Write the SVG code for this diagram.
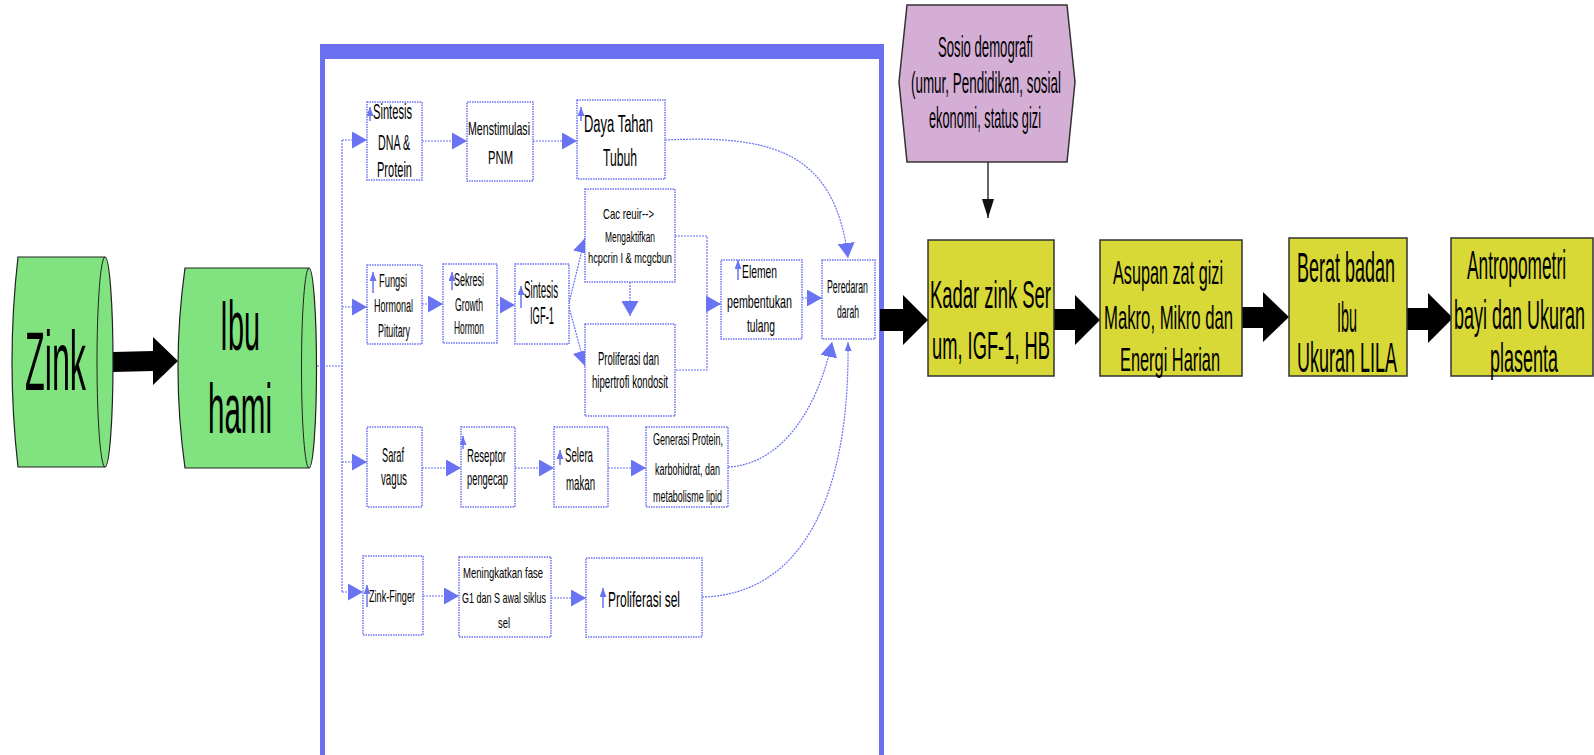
<svg xmlns="http://www.w3.org/2000/svg" width="1594" height="755" viewBox="0 0 1594 755">
<defs>
<style>
text{font-family:"Liberation Sans",Arial,sans-serif;fill:#000}
.cyl{fill:#80e380;stroke:#222;stroke-width:1.2}
.cap{fill:none;stroke:#222;stroke-width:1}
.box{fill:#fff;stroke:#6a73f2;stroke-width:1.5;stroke-dasharray:1.5 1}
.yb{fill:#d8d837;stroke:#333;stroke-width:1.5}
.con{fill:none;stroke:#6a73f2;stroke-width:1.2;stroke-dasharray:2 1}
.up{stroke:#6a73f2;stroke-width:1.5;fill:none}
.blk{fill:#000}
</style>
<marker id="ah" markerUnits="userSpaceOnUse" viewBox="0 0 16 17" markerWidth="16" markerHeight="17" refX="15" refY="8.5" orient="auto"><path d="M0,0 L15,8.5 L0,17 Z" fill="#6a73f2"/></marker>
<marker id="sm" markerUnits="userSpaceOnUse" viewBox="0 0 9 7" markerWidth="9" markerHeight="7" refX="9" refY="3.5" orient="auto"><path d="M0,0 L9,3.5 L0,7 Z" fill="#6a73f2"/></marker>
<marker id="gh" markerUnits="userSpaceOnUse" viewBox="0 0 20 12" markerWidth="20" markerHeight="12" refX="19" refY="6" orient="auto"><path d="M0,0 L19,6 L0,12 Z" fill="#111"/></marker>
</defs>

<!-- frame -->
<path d="M320,44 H884 V760 H320 Z M325,59 V760 H879 V59 Z" fill="#6a70f0" fill-rule="evenodd"/>

<g id="connectors">
<path class="con" d="M317,366 H342"/>
<path class="con" d="M342,140 V592"/>
<path class="con" d="M342,140 H367" marker-end="url(#ah)"/>
<path class="con" d="M342,307 H367" marker-end="url(#ah)"/>
<path class="con" d="M342,462 H367" marker-end="url(#ah)"/>
<path class="con" d="M342,592 H363" marker-end="url(#ah)"/>
<path class="con" d="M422,141 H467" marker-end="url(#ah)"/>
<path class="con" d="M533,141 H577" marker-end="url(#ah)"/>
<path class="con" d="M422,304 H443" marker-end="url(#ah)"/>
<path class="con" d="M497,305 H515" marker-end="url(#ah)"/>
<path class="con" d="M569,303 L585,238" marker-end="url(#ah)"/>
<path class="con" d="M569,307 L585,366" marker-end="url(#ah)"/>
<path class="con" d="M630,282 V316" marker-end="url(#ah)"/>
<path class="con" d="M675,236 H707 V370 H675"/>
<path class="con" d="M707,304 H721" marker-end="url(#ah)"/>
<path class="con" d="M802,298 H822" marker-end="url(#ah)"/>
<path class="con" d="M422,468 H461" marker-end="url(#ah)"/>
<path class="con" d="M515,468 H554" marker-end="url(#ah)"/>
<path class="con" d="M608,468 H646" marker-end="url(#ah)"/>
<path class="con" d="M423,596 H459" marker-end="url(#ah)"/>
<path class="con" d="M551,598 H586" marker-end="url(#ah)"/>
<path class="con" d="M665,140 C770,135 835,150 848,258" marker-end="url(#ah)"/>
<path class="con" d="M728,467 C775,465 815,420 832,342" marker-end="url(#ah)"/>
<path class="con" d="M702,597 C800,595 850,500 848,342" marker-end="url(#sm)"/>
<path d="M988,162 V218" stroke="#333" stroke-width="1.5" marker-end="url(#gh)"/>
<polygon class="blk" points="113,352 153,351 153,337 178,361 153,385 153,371 113,372"/>
<polygon class="blk" points="880,309 903,309 903,295 928,320 903,345 903,331 880,331"/>
<polygon class="blk" points="1054,309 1075,309 1075,295 1100,320 1075,345 1075,330 1054,330"/>
<polygon class="blk" points="1242,307 1263,307 1263,292 1289,317 1263,342 1263,328 1242,328"/>
<polygon class="blk" points="1407,308 1428,308 1428,293 1453,318 1428,343 1428,330 1407,330"/>
</g>

<g id="zink">
<path class="cyl" d="M18,257 L105,257 A8,105 0 0 1 105,467 L18,467 Q6,362 18,257 Z"/>
<path class="cap" d="M105,257 A8,105 0 0 0 105,467"/>
<text x="25" y="390" font-size="84" textLength="61" lengthAdjust="spacingAndGlyphs">Zink</text>
</g>
<g id="ibu">
<path class="cyl" d="M185,268 L309,268 A7.5,100 0 0 1 309,468 L185,468 Q171,368 185,268 Z"/>
<path class="cap" d="M309,268 A7.5,100 0 0 0 309,468"/>
<text x="220" y="350" font-size="70" textLength="40" lengthAdjust="spacingAndGlyphs">Ibu</text>
<text x="208" y="433" font-size="70" textLength="64" lengthAdjust="spacingAndGlyphs">hami</text>
</g>

<g id="sintesis-dna">
<rect class="box" x="367" y="102" width="55" height="78"/>
<path class="up" d="M370,121 V107" marker-end="url(#sm)"/>
<text x="373" y="119" font-size="22" textLength="39" lengthAdjust="spacingAndGlyphs">Sintesis</text>
<text x="378" y="150" font-size="22" textLength="32" lengthAdjust="spacingAndGlyphs">DNA &amp;</text>
<text x="377" y="177" font-size="22" textLength="35" lengthAdjust="spacingAndGlyphs">Protein</text>
</g>
<g id="menstimulasi">
<rect class="box" x="467" y="102" width="66" height="79"/>
<text x="468" y="135" font-size="18" textLength="62" lengthAdjust="spacingAndGlyphs">Menstimulasi</text>
<text x="488" y="164" font-size="18" textLength="25" lengthAdjust="spacingAndGlyphs">PNM</text>
</g>
<g id="daya-tahan">
<rect class="box" x="577" y="100" width="88" height="79"/>
<path class="up" d="M581,121 V107" marker-end="url(#sm)"/>
<text x="584" y="132" font-size="23" textLength="69" lengthAdjust="spacingAndGlyphs">Daya Tahan</text>
<text x="603" y="166" font-size="23" textLength="34" lengthAdjust="spacingAndGlyphs">Tubuh</text>
</g>

<g id="fungsi">
<rect class="box" x="367" y="265" width="55" height="79"/>
<path class="up" d="M373,293 V272" marker-end="url(#sm)"/>
<text x="379" y="287" font-size="18" textLength="28" lengthAdjust="spacingAndGlyphs">Fungsi</text>
<text x="374" y="312" font-size="18" textLength="39" lengthAdjust="spacingAndGlyphs">Hormonal</text>
<text x="378" y="337" font-size="18" textLength="32" lengthAdjust="spacingAndGlyphs">Pituitary</text>
</g>
<g id="sekresi">
<rect class="box" x="443" y="264" width="54" height="79"/>
<path class="up" d="M452,290 V272" marker-end="url(#sm)"/>
<text x="454" y="286" font-size="18" textLength="30" lengthAdjust="spacingAndGlyphs">Sekresi</text>
<text x="455" y="311" font-size="18" textLength="28" lengthAdjust="spacingAndGlyphs">Growth</text>
<text x="454" y="334" font-size="18" textLength="30" lengthAdjust="spacingAndGlyphs">Hormon</text>
</g>
<g id="sintesis-igf">
<rect class="box" x="515" y="264" width="54" height="80"/>
<path class="up" d="M521,308 V286" marker-end="url(#sm)"/>
<text x="524" y="298" font-size="23" textLength="34" lengthAdjust="spacingAndGlyphs">Sintesis</text>
<text x="530" y="324" font-size="23" textLength="24" lengthAdjust="spacingAndGlyphs">IGF-1</text>
</g>
<g id="cac">
<rect class="box" x="585" y="189" width="90" height="93"/>
<text x="603" y="219" font-size="15" textLength="51" lengthAdjust="spacingAndGlyphs">Cac reuir--&gt;</text>
<text x="605" y="242" font-size="15" textLength="50" lengthAdjust="spacingAndGlyphs">Mengaktifkan</text>
<text x="588" y="263" font-size="15" textLength="84" lengthAdjust="spacingAndGlyphs">hcpcrin I &amp; mcgcbun</text>
</g>
<g id="proliferasi-kondrosit">
<rect class="box" x="585" y="324" width="90" height="92"/>
<text x="598" y="365" font-size="18" textLength="61" lengthAdjust="spacingAndGlyphs">Proliferasi dan</text>
<text x="592" y="388" font-size="18" textLength="76" lengthAdjust="spacingAndGlyphs">hipertrofi kondosit</text>
</g>
<g id="elemen">
<rect class="box" x="721" y="260" width="81" height="79"/>
<path class="up" d="M738,280 V260" marker-end="url(#sm)"/>
<text x="742" y="278" font-size="19" textLength="35" lengthAdjust="spacingAndGlyphs">Elemen</text>
<text x="727" y="308" font-size="19" textLength="65" lengthAdjust="spacingAndGlyphs">pembentukan</text>
<text x="747" y="332" font-size="19" textLength="28" lengthAdjust="spacingAndGlyphs">tulang</text>
</g>
<g id="peredaran">
<rect class="box" x="822" y="260" width="53" height="79"/>
<text x="827" y="293" font-size="18" textLength="41" lengthAdjust="spacingAndGlyphs">Peredaran</text>
<text x="837" y="318" font-size="18" textLength="22" lengthAdjust="spacingAndGlyphs">darah</text>
</g>

<g id="saraf">
<rect class="box" x="367" y="427" width="55" height="80"/>
<text x="382" y="462" font-size="21" textLength="22" lengthAdjust="spacingAndGlyphs">Saraf</text>
<text x="381" y="485" font-size="21" textLength="26" lengthAdjust="spacingAndGlyphs">vagus</text>
</g>
<g id="reseptor">
<rect class="box" x="461" y="427" width="54" height="80"/>
<path class="up" d="M463,449 V436" marker-end="url(#sm)"/>
<text x="467" y="462" font-size="19" textLength="39" lengthAdjust="spacingAndGlyphs">Reseptor</text>
<text x="467" y="485" font-size="19" textLength="41" lengthAdjust="spacingAndGlyphs">pengecap</text>
</g>
<g id="selera">
<rect class="box" x="554" y="427" width="54" height="80"/>
<path class="up" d="M560,465 V450" marker-end="url(#sm)"/>
<text x="565" y="462" font-size="21" textLength="28" lengthAdjust="spacingAndGlyphs">Selera</text>
<text x="566" y="490" font-size="21" textLength="29" lengthAdjust="spacingAndGlyphs">makan</text>
</g>
<g id="generasi">
<rect class="box" x="646" y="427" width="82" height="80"/>
<text x="653" y="445" font-size="16" textLength="70" lengthAdjust="spacingAndGlyphs">Generasi Protein,</text>
<text x="655" y="475" font-size="16" textLength="65" lengthAdjust="spacingAndGlyphs">karbohidrat, dan</text>
<text x="653" y="502" font-size="16" textLength="69" lengthAdjust="spacingAndGlyphs">metabolisme lipid</text>
</g>

<g id="zink-finger">
<rect class="box" x="363" y="556" width="60" height="79"/>
<path class="up" d="M367,607 V585" marker-end="url(#sm)"/>
<text x="369" y="602" font-size="16" textLength="46" lengthAdjust="spacingAndGlyphs">Zink-Finger</text>
</g>
<g id="meningkatkan">
<rect class="box" x="459" y="557" width="92" height="80"/>
<text x="463" y="578" font-size="15" textLength="80" lengthAdjust="spacingAndGlyphs">Meningkatkan fase</text>
<text x="462" y="603" font-size="15" textLength="84" lengthAdjust="spacingAndGlyphs">G1 dan S awal siklus</text>
<text x="498" y="628" font-size="15" textLength="12" lengthAdjust="spacingAndGlyphs">sel</text>
</g>
<g id="proliferasi-sel">
<rect class="box" x="586" y="558" width="116" height="79"/>
<path class="up" d="M603,608 V588" marker-end="url(#sm)"/>
<text x="608" y="607" font-size="22" textLength="72" lengthAdjust="spacingAndGlyphs">Proliferasi sel</text>
</g>

<g id="sosio">
<polygon points="907,5 1067,5 1075,82 1067,162 907,162 899,82" fill="#d5aed6" stroke="#333" stroke-width="1.5"/>
<text x="938" y="57" font-size="29" textLength="95" lengthAdjust="spacingAndGlyphs">Sosio demografi</text>
<text x="911" y="93" font-size="29" textLength="150" lengthAdjust="spacingAndGlyphs">(umur, Pendidikan, sosial</text>
<text x="929" y="128" font-size="29" textLength="112" lengthAdjust="spacingAndGlyphs">ekonomi, status gizi</text>
</g>
<g id="kadar">
<rect class="yb" x="928" y="240" width="126" height="136"/>
<text x="930" y="308" font-size="38" textLength="121" lengthAdjust="spacingAndGlyphs">Kadar zink Ser</text>
<text x="932" y="359" font-size="38" textLength="118" lengthAdjust="spacingAndGlyphs">um, IGF-1, HB</text>
</g>
<g id="asupan">
<rect class="yb" x="1100" y="240" width="142" height="136"/>
<text x="1113" y="284" font-size="34" textLength="110" lengthAdjust="spacingAndGlyphs">Asupan zat gizi</text>
<text x="1104" y="329" font-size="34" textLength="129" lengthAdjust="spacingAndGlyphs">Makro, Mikro dan</text>
<text x="1120" y="371" font-size="34" textLength="100" lengthAdjust="spacingAndGlyphs">Energi Harian</text>
</g>
<g id="berat">
<rect class="yb" x="1289" y="238" width="118" height="138"/>
<text x="1297" y="282" font-size="42" textLength="98" lengthAdjust="spacingAndGlyphs">Berat badan</text>
<text x="1337" y="332" font-size="42" textLength="20" lengthAdjust="spacingAndGlyphs">Ibu</text>
<text x="1297" y="372" font-size="42" textLength="100" lengthAdjust="spacingAndGlyphs">Ukuran LILA</text>
</g>
<g id="antropometri">
<rect class="yb" x="1451" y="238" width="142" height="138"/>
<text x="1467" y="279" font-size="40" textLength="99" lengthAdjust="spacingAndGlyphs">Antropometri</text>
<text x="1454" y="329" font-size="40" textLength="131" lengthAdjust="spacingAndGlyphs">bayi dan Ukuran</text>
<text x="1490" y="372" font-size="40" textLength="68" lengthAdjust="spacingAndGlyphs">plasenta</text>
</g>
</svg>
